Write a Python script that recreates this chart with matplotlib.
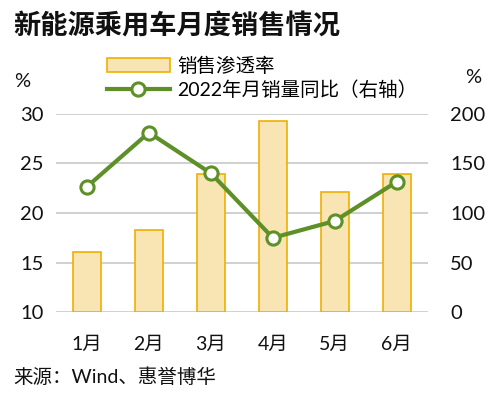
import matplotlib
matplotlib.use("Agg")
import matplotlib.pyplot as plt
import numpy as np

plt.rcParams["font.family"] = ["Lato", "Noto Sans CJK SC", "DejaVu Sans"]

months = ["1月", "2月", "3月", "4月", "5月", "6月"]
penetration = [16.1, 18.3, 23.9, 29.3, 22.1, 23.9]
yoy_growth = [126.5, 181.0, 140.0, 75.0, 92.0, 131.5]

BAR_FILL = "#F9E5B3"
BAR_EDGE = "#F0B000"
LINE_GREEN = "#5E9028"
GRID_GRAY = "#C8C8C8"

fig = plt.figure(figsize=(4.98, 3.98), dpi=100)
ax = fig.add_axes([0.1124, 0.2153, 0.7466, 0.499])
ax2 = ax.twinx()

x = np.arange(len(months))
ax.bar(x, [p - 10 for p in penetration], bottom=10, width=0.45,
       color=BAR_FILL, edgecolor=BAR_EDGE, linewidth=1.2, zorder=2,
       label="销售渗透率")
ax2.plot(x, yoy_growth, color=LINE_GREEN, linewidth=3, marker="o",
         markersize=9.5, markerfacecolor="white", markeredgecolor=LINE_GREEN,
         markeredgewidth=2.2, zorder=3, label="2022年月销量同比（右轴）")

ax.set_xlim(-0.5, len(months) - 0.5)
ax.set_ylim(10, 30)
ax.set_yticks([10, 15, 20, 25, 30])
ax2.set_ylim(0, 200)
ax2.set_yticks([0, 50, 100, 150, 200])
ax.set_xticks(x)
ax.set_xticklabels(months)

ax.grid(axis="y", color=GRID_GRAY, linewidth=1.2, zorder=0)
ax.set_axisbelow(True)
for a in (ax, ax2):
    for s in a.spines.values():
        s.set_visible(False)
    a.tick_params(length=0, labelsize=14.5, colors="#111111")
ax.tick_params(axis="x", labelsize=14, pad=17)
ax.tick_params(axis="y", pad=9)
ax2.tick_params(axis="y", pad=16)

fig.text(0.026, 0.937, "新能源乘用车月度销售情况", fontsize=19.6, fontweight="bold",
         ha="left", va="center", color="#111111")
fig.text(0.044, 0.795, "%", fontsize=14.5, ha="center", va="center", color="#111111")
fig.text(0.95, 0.805, "%", fontsize=14.5, ha="center", va="center", color="#111111")
fig.text(0.026, 0.053, "来源：Wind、惠誉博华", fontsize=14, ha="left",
         va="center", color="#111111")

h1, l1 = ax.get_legend_handles_labels()
h2, l2 = ax2.get_legend_handles_labels()
fig.legend(h1 + h2, l1 + l2, loc="upper left", bbox_to_anchor=(0.2, 0.878),
           frameon=False, fontsize=14, handlelength=3.2, handletextpad=0.4,
           labelspacing=0.3, borderaxespad=0)

fig.savefig("out.png", dpi=100)
